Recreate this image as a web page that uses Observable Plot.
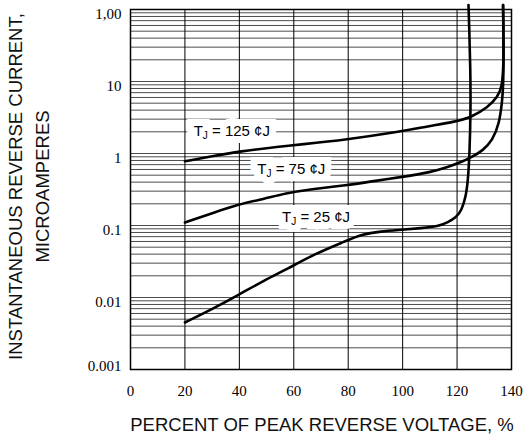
<!DOCTYPE html>
<html>
<head>
<meta charset="utf-8">
<script src="https://cdn.jsdelivr.net/npm/d3@7"></script>
<script src="https://cdn.jsdelivr.net/npm/@observablehq/plot@0.6"></script>
<style>
  html, body { margin: 0; padding: 0; background: #fff; }
</style>
</head>
<body>
<div id="chart"></div>
<script>
// ---- data ----
const xTicks = [0, 20, 40, 60, 80, 100, 120, 140];
const yTicks = [0.001, 0.01, 0.1, 1, 10, 100];
const yTickLabels = ["0.001", "0.01", "0.1", "1", "10", "1,00"];

const t125X = [20, 30, 40, 55, 62, 79, 99.5, 109, 119.7, 125.3, 131.3, 134.9, 136.5, 137.0, 137.1, 137.0, 136.9];
const t125Y = [0.78, 0.92, 1.07, 1.25, 1.33, 1.55, 2.02, 2.37, 2.78, 3.2, 4.4, 6.05, 8.5, 15, 30, 60, 115];

const t75X = [20, 29.4, 39.4, 49, 57, 66.2, 79.2, 90.4, 99.5, 110.5, 116.7, 121.6, 125.3, 129.4, 133, 135.5, 136.6, 137.0, 137.1, 137.0, 136.9];
const t75Y = [0.11, 0.145, 0.196, 0.234, 0.28, 0.32, 0.36, 0.42, 0.47, 0.55, 0.65, 0.76, 0.89, 1.09, 1.52, 2.58, 5.4, 9, 30, 60, 115];

const t25X = [20, 29.4, 39.4, 49, 57.7, 67.5, 79.2, 84.7, 92.1, 99.5, 106.9, 113, 116.7, 119.7, 121.6, 123.2, 124.0, 124.6, 125.0, 124.9, 124.5, 124.2];
const t25Y = [0.0045, 0.0067, 0.0107, 0.0172, 0.025, 0.040, 0.061, 0.075, 0.083, 0.087, 0.092, 0.097, 0.111, 0.13, 0.16, 0.25, 0.42, 1, 4, 15, 50, 115];

const labelTemps = ["125", "75", "25"];
const labelX = [23.2, 46.6, 55.7];
const labelY = [2.05, 0.6, 0.13];

const xTitle = "PERCENT OF PEAK REVERSE VOLTAGE, %";
const yTitle1 = "INSTANTANEOUS REVERSE CURRENT,";
const yTitle2 = "MICROAMPERES";

// ---- build tables ----
const toRows = (xs, ys) => xs.map((x, i) => ({x, y: ys[i]}));
const c125 = toRows(t125X, t125Y);
const c75 = toRows(t75X, t75Y);
const c25 = toRows(t25X, t25Y);
const labels = labelTemps.map((t, i) => ({x: labelX[i], y: labelY[i], text: "TJ = " + t + " ¢J"}));
const yDomain = [yTicks[0], yTicks[yTicks.length - 1]];
const yGrid = d3.scaleLog().domain(yDomain).ticks(30);
const tickLabel = d => yTickLabels[yTicks.indexOf(d)];

const serif = "Liberation Serif";
const sans = "Liberation Sans";

const labelOpts = {x: "x", y: "y", text: "text", textAnchor: "start", fontSize: 15, fontFamily: sans};

const chart = Plot.plot({
  width: 523,
  height: 446,
  marginLeft: 130,
  marginRight: 12,
  marginTop: 9,
  marginBottom: 77,
  style: {fontFamily: sans, background: "white", overflow: "visible"},
  x: {domain: [xTicks[0], xTicks[xTicks.length - 1]]},
  y: {type: "log", domain: yDomain},
  marks: [
    Plot.ruleY(yGrid, {stroke: "#000", strokeOpacity: 0.7, strokeWidth: 1}),
    Plot.ruleX(xTicks.slice(1, -1), {stroke: "#000", strokeWidth: 1}),
    Plot.frame({stroke: "#000", strokeWidth: 1.5}),
    // white box behind each label (halo layer), then the label itself
    Plot.text(labels, {...labelOpts, fill: "white", stroke: "white", strokeWidth: 14, strokeLinejoin: "miter"}),
    Plot.text(labels, {...labelOpts, fill: "#000"}),
    Plot.line(c125, {x: "x", y: "y", curve: "basis", stroke: "#000", strokeWidth: 2.6}),
    Plot.line(c75, {x: "x", y: "y", curve: "basis", stroke: "#000", strokeWidth: 2.6}),
    Plot.line(c25, {x: "x", y: "y", curve: "basis", stroke: "#000", strokeWidth: 2.6}),
    Plot.axisX(xTicks, {tickSize: 0, tickPadding: 16, fontSize: 15, fontFamily: serif, label: null}),
    Plot.axisY(yTicks.slice(1), {tickFormat: tickLabel, tickSize: 0, tickPadding: 9, dy: 5,
      fontSize: 15, fontFamily: serif, label: null}),
    Plot.axisY(yTicks.slice(0, 1), {tickFormat: tickLabel, tickSize: 0, tickPadding: 9, dy: -3,
      fontSize: 15, fontFamily: serif, label: null}),
    Plot.text([xTitle], {frameAnchor: "bottom", text: d => d, dy: 61.5, dx: 1,
      fontSize: 18.5, fontFamily: sans, fill: "#111"}),
    Plot.text([yTitle1], {frameAnchor: "left", text: d => d, rotate: -90, textAnchor: "middle",
      dx: -114.5, dy: -3, fontSize: 18.5, fontFamily: sans, fill: "#111"}),
    Plot.text([yTitle2], {frameAnchor: "left", text: d => d, rotate: -90, textAnchor: "middle",
      dx: -87.5, dy: -3, fontSize: 18.5, fontFamily: sans, fill: "#111"})
  ]
});

// subscript J in the T_J labels
chart.querySelectorAll("text").forEach(t => {
  const s = t.textContent;
  if (s.startsWith("TJ")) {
    t.textContent = "";
    const ns = "http://www.w3.org/2000/svg";
    const a = document.createElementNS(ns, "tspan"); a.textContent = "T";
    const b = document.createElementNS(ns, "tspan"); b.textContent = "J";
    b.setAttribute("dy", "3"); b.setAttribute("font-size", "10");
    const c = document.createElementNS(ns, "tspan"); c.textContent = s.slice(2);
    c.setAttribute("dy", "-3");
    t.append(a, b, c);
  }
});

document.getElementById("chart").append(chart);
</script>
</body>
</html>
